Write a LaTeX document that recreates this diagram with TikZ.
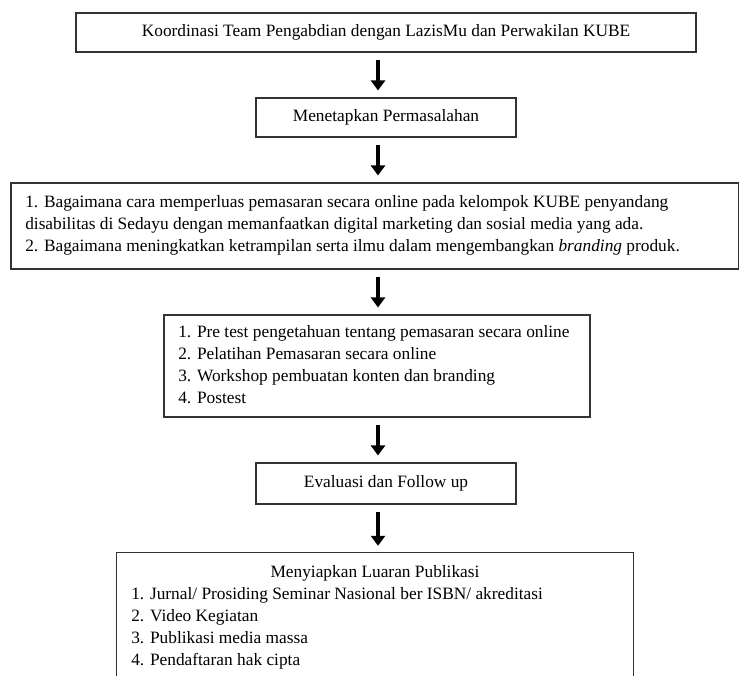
\documentclass[tikz,border=0pt]{standalone}
\usepackage{fontspec}
\setmainfont{Liberation Serif}
\usetikzlibrary{arrows.meta}
\begin{document}
\begin{tikzpicture}[x=0.75pt,y=-0.75pt,
  box/.style={draw=black!80,line width=0.9pt,inner sep=0pt,align=center},
  txt/.style={inner sep=0pt,align=left},
  bigarrow/.style={line width=3.2pt,-{Triangle[width=10.5pt,length=7.5pt]},shorten <=5.2pt,shorten >=5.2pt},
  font=\fontsize{13}{16.5}\selectfont]
\useasboundingbox (0,0) rectangle (739,675);
\coordinate (ax) at (378,0);
% box 1
\node[box,minimum width=465pt,minimum height=29.25pt] (b1) at (386,32.5)
  {Koordinasi Team Pengabdian dengan LazisMu dan Perwakilan KUBE};
% box 2
\node[box,minimum width=195pt,minimum height=29.25pt] (b2) at (386,117.5)
  {Menetapkan Permasalahan};
% box 3
\node[box,minimum width=546pt,minimum height=64.5pt] (b3) at (375,226) {};
\node[txt,anchor=west] (t3) at (25,225) {1. Bagaimana cara memperluas pemasaran secara online pada kelompok KUBE penyandang\\
disabilitas di Sedayu dengan memanfaatkan digital marketing dan sosial media yang ada.\\
2. Bagaimana meningkatkan ketrampilan serta ilmu dalam mengembangkan \textit{branding} produk.};
% box 4
\node[box,minimum width=319.5pt,minimum height=76.5pt] (b4) at (377,366) {};
\node[txt,anchor=west] (t4) at (178,365) {1. Pre test pengetahuan tentang pemasaran secara online\\
2. Pelatihan Pemasaran secara online\\
3. Workshop pembuatan konten dan branding\\
4. Postest};
% box 5
\node[box,minimum width=195pt,minimum height=30.75pt] (b5) at (386,483.5)
  {Evaluasi dan Follow up};
% box 6 (open at the bottom, cut by the page edge)
\node[inner sep=0pt,minimum width=387pt,minimum height=96pt] (b6) at (375,617) {};
\draw[draw=black!80,line width=0.9pt] (b6.south west) -- (b6.north west) -- (b6.north east) -- (b6.south east);
\node[inner sep=0pt] (h6) at (375,573) {Menyiapkan Luaran Publikasi};
\node[txt,anchor=north west] (t6) at (131,587) {1. Jurnal/ Prosiding Seminar Nasional ber ISBN/ akreditasi\\
2. Video Kegiatan\\
3. Publikasi media massa\\
4. Pendaftaran hak cipta};
% arrows
\draw[bigarrow] (b1.south -| ax) -- (b2.north -| ax);
\draw[bigarrow] (b2.south -| ax) -- (b3.north -| ax);
\draw[bigarrow] (b3.south -| ax) -- (b4.north -| ax);
\draw[bigarrow] (b4.south -| ax) -- (b5.north -| ax);
\draw[bigarrow] (b5.south -| ax) -- (b6.north -| ax);
\end{tikzpicture}
\end{document}
